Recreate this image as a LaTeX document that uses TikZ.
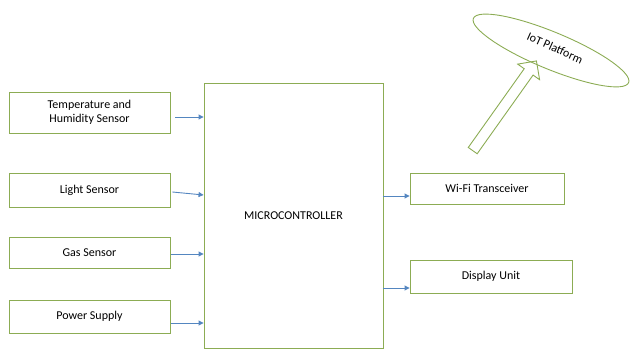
\documentclass[tikz,border=0pt]{standalone}
\usepackage{fontspec}
\setmainfont{Carlito}
\usepackage{tikz}
\usetikzlibrary{arrows.meta,shapes.geometric,shapes.arrows}
\definecolor{boxgreen}{RGB}{140,172,84}
\definecolor{linkblue}{RGB}{84,134,192}

\begin{document}
\begin{tikzpicture}[x=1pt,y=1pt,
  block/.style={draw=boxgreen,line width=0.9pt,minimum width=161pt,minimum height=33pt,inner sep=2pt,align=center,font=\fontsize{12}{14.5}\selectfont},
  link/.style={draw=linkblue,line width=0.9pt,-{Triangle[length=5pt,width=5pt]}}]
  \useasboundingbox (0,0) rectangle (630,351);
  % inputs
  \node[block,minimum height=41pt] (temp) at (89.5,238.5) {Temperature and\\Humidity Sensor};
  \node[block,minimum height=34pt] (light) at (89.5,161) {Light Sensor};
  \node[block,minimum height=31pt] (gas) at (89.5,98.5) {Gas Sensor};
  \node[block] (power) at (89.5,34.5) {Power Supply};
  % controller
  \node[block,minimum width=179pt,minimum height=265pt] (mcu) at (293.5,135.5) {MICROCONTROLLER};
  % outputs
  \node[block,minimum width=154pt,minimum height=31pt] (wifi) at (487,162.5) {Wi-Fi Transceiver};
  \node[block,minimum width=162pt] (disp) at (491,74.5) {Display Unit};
  \node[draw=boxgreen,line width=0.9pt,ellipse,minimum width=168pt,minimum height=37pt,inner sep=0pt,rotate=-22.5] (iot) at (551,300.5) {};
  \node[font=\fontsize{12}{14.5}\selectfont,rotate=-24] (iotlabel) at (555,303) {IoT Platform};
  \node[single arrow,draw=boxgreen,line width=0.9pt,minimum height=110pt,inner sep=5pt,single arrow head extend=8pt,rotate=54.6] (up) at (503,243) {};
  % links
  \draw[link,shorten <=5pt] ([yshift=-4.5pt]temp.east) -- ([yshift=-4.5pt]temp.east -| mcu.west);
  \draw[link] ([xshift=2pt,yshift=-2pt]light.east) -- ([yshift=-5pt]light.east -| mcu.west);
  \draw[link] ([xshift=1pt,yshift=-1.5pt]gas.east) -- ([yshift=-1.5pt]gas.east -| mcu.west);
  \draw[link] ([xshift=1pt,yshift=-6.5pt]power.east) -- ([yshift=-6.5pt]power.east -| mcu.west);
  \draw[link] ([yshift=-7.5pt]wifi.west -| mcu.east) -- ([yshift=-7.5pt]wifi.west);
  \draw[link] ([yshift=-11.5pt]disp.west -| mcu.east) -- ([yshift=-11.5pt]disp.west);
\end{tikzpicture}
\end{document}
